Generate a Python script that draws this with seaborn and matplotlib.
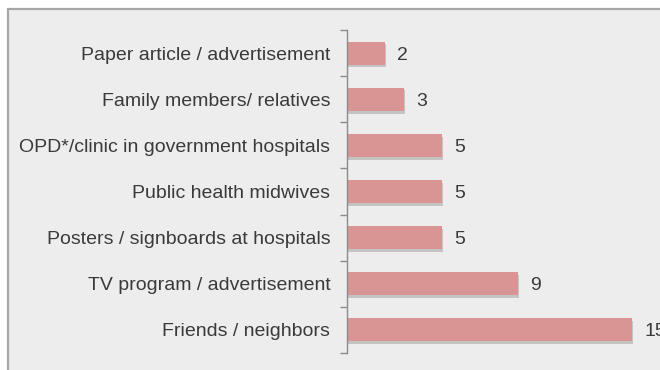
import matplotlib
matplotlib.use("Agg")
import matplotlib.pyplot as plt
import matplotlib.patheffects as pe
from matplotlib.patches import Rectangle
import seaborn as sns
import pandas as pd

# Sources of information and number of respondents
sources = [
    "Paper article / advertisement",
    "Family members/ relatives",
    "OPD*/clinic in government hospitals",
    "Public health midwives",
    "Posters / signboards at hospitals",
    "TV program / advertisement",
    "Friends / neighbors",
]
counts = [2, 3, 5, 5, 5, 9, 15]

df = pd.DataFrame({"source": sources, "count": counts})

sns.set_theme(style="white")
plt.rcParams["font.family"] = ["Liberation Sans", "DejaVu Sans"]

BG = "#EDEDED"
TEXT = "#3A3A3A"
AXIS = "#8C8C8C"
FS = 14

fig = plt.figure(figsize=(6.6, 3.7), dpi=100)
fig.patch.set_facecolor("white")

# Chart-area frame running off the right and bottom edges
frame = Rectangle((8 / 660, -0.05), 1.1, 1 - 9 / 370 + 0.05,
                  transform=fig.transFigure, facecolor=BG,
                  edgecolor="#A6A6A6", linewidth=1.6, zorder=-5)
fig.patches.append(frame)

ax = fig.add_axes([347 / 660, 17 / 370, 304 / 660, 323 / 370])
ax.set_zorder(1)
ax.set_facecolor("none")

sns.barplot(data=df, x="count", y="source", orient="h", color="#D99594",
            saturation=1, width=0.5, linewidth=0, ax=ax)

# Soft drop shadow under each bar
for bar in ax.patches:
    bar.set_path_effects([
        pe.SimplePatchShadow(offset=(1, -2), shadow_rgbFace="#7A7A7A", alpha=0.35),
        pe.Normal(),
    ])

value_texts = ax.bar_label(ax.containers[0], labels=[str(v) for v in counts],
                           padding=9, fontsize=FS, color=TEXT)
for t in value_texts:
    t.set_verticalalignment("center_baseline")

ax.set_xlim(0, 16)
ax.set_ylim(len(sources) - 0.5, -0.5)
ax.set_xlabel("")
ax.set_ylabel("")
ax.set_xticks([])

# Category separators as ticks on the left spine
ax.set_yticks([i - 0.5 for i in range(len(sources) + 1)], minor=False)
ax.set_yticklabels([])
ax.set_yticks(range(len(sources)), minor=True)
ax.set_yticklabels(sources, minor=True, fontsize=FS, color=TEXT)
ax.tick_params(axis="y", which="major", length=5, width=1, color=AXIS, left=True)
ax.tick_params(axis="y", which="minor", length=0, pad=12)

for side in ["top", "right", "bottom"]:
    ax.spines[side].set_visible(False)
ax.spines["left"].set_color(AXIS)
ax.spines["left"].set_linewidth(1)

fig.savefig("out.png", dpi=100, facecolor="white")
